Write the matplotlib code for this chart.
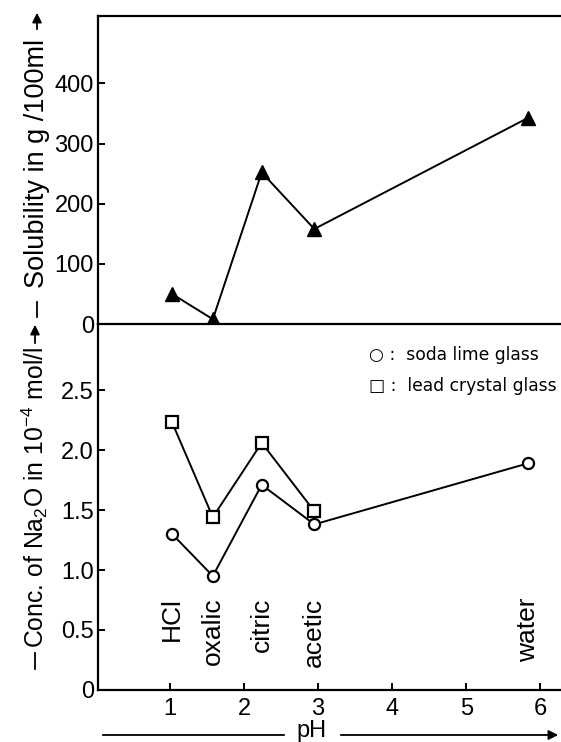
import matplotlib.pyplot as plt

plt.rcParams['font.family'] = ['Liberation Sans', 'DejaVu Sans']
plt.rcParams['mathtext.fontset'] = 'custom'
plt.rcParams['mathtext.rm'] = 'Liberation Sans'

# data
acids = ["HCl", "oxalic", "citric", "acetic", "water"]
ph = [1.03, 1.58, 2.24, 2.95, 5.84]
solubility = [50, 8, 252, 158, 343]
soda_lime = [1.30, 0.95, 1.71, 1.38, 1.89]
lead_crystal = [2.23, 1.44, 2.06, 1.49]

fig = plt.figure(figsize=(5.61, 7.42), dpi=100)
ax1 = fig.add_axes([0.1747, 0.5633, 0.8253, 0.4151])
ax2 = fig.add_axes([0.1747, 0.0701, 0.8253, 0.4932])
ax2.patch.set_visible(False)

for ax in (ax1, ax2):
  ax.set_xlim(0.03, 6.28)
  ax.spines['right'].set_visible(False)
  for s in ax.spines.values():
    s.set_linewidth(1.6)
  ax.tick_params(direction='in', length=5, width=1.4, labelsize=17, pad=3)

# upper panel: solubility
ax1.plot(ph, solubility, color='black', lw=1.4, marker='^', ms=10)
ax1.set_ylim(0, 512)
ax1.set_yticks([0, 100, 200, 300, 400])
ax1.set_xticks([])

# lower panel: Na2O concentration
ax2.spines['top'].set_visible(False)
ax2.plot(ph, soda_lime, color='black', lw=1.4, marker='o', ms=8,
         mfc='white', mec='black', mew=1.6)
ax2.plot(ph[:4], lead_crystal, color='black', lw=1.4, marker='s', ms=8.5,
         mfc='white', mec='black', mew=1.6)
ax2.set_ylim(0, 3.05)
ax2.set_yticks([0, 0.5, 1.0, 1.5, 2.0, 2.5])
ax2.set_yticklabels(["0", "0.5", "1.0", "1.5", "2.0", "2.5"])
ax2.set_xticks([1, 2, 3, 4, 5, 6])
ax2.tick_params(axis='x', pad=6)

for name, x in zip(acids, ph):
  ax2.text(x, 0.77, name, rotation=90, ha='center', va='top', fontsize=19)

# legend written as text, like the original
ax2.text(0.585, 0.915, "\u25cb :  soda lime glass", transform=ax2.transAxes,
         fontsize=12.3, va='center', family=['DejaVu Sans'])
ax2.text(0.585, 0.83, "\u25a1 :  lead crystal glass", transform=ax2.transAxes,
         fontsize=12.3, va='center', family=['DejaVu Sans'])

# axis labels with arrows
arr = dict(arrowstyle='-|>', color='black', lw=1.3, mutation_scale=14)
ln = dict(arrowstyle='-', color='black', lw=1.3)
W, H = 561.0, 742.0
def fp(x, y):
  return (x / W, 1 - y / H)

fig.text(37 / W, 1 - 163 / H, "Solubility in g /100ml", rotation=90,
         ha='center', va='center', fontsize=19.5)
fig.add_artist(plt.matplotlib.patches.FancyArrowPatch(fp(37, 320), fp(37, 299), **ln))
fig.add_artist(plt.matplotlib.patches.FancyArrowPatch(fp(37, 32), fp(37, 10), **arr))

fig.text(35 / W, 1 - 497 / H, r"Conc. of Na$_\mathregular{2}$O in 10$^\mathregular{-4}$ mol/l",
         rotation=90, ha='center', va='center', fontsize=17.8)
fig.add_artist(plt.matplotlib.patches.FancyArrowPatch(fp(35, 672), fp(35, 650), **ln))
fig.add_artist(plt.matplotlib.patches.FancyArrowPatch(fp(35, 346), fp(35, 322), **arr))

fig.text(312 / W, 1 - 731 / H, "pH", ha='center', va='center', fontsize=17)
fig.add_artist(plt.matplotlib.patches.FancyArrowPatch(fp(100, 735), fp(287, 735), **ln))
fig.add_artist(plt.matplotlib.patches.FancyArrowPatch(fp(338, 735), fp(561, 735), **arr))

plt.savefig("out.png", dpi=100)
plt.close()
